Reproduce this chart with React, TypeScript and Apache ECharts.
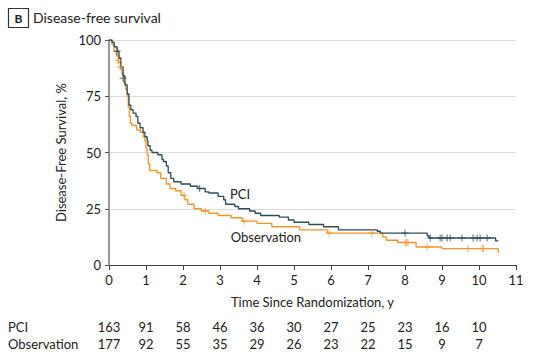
import React, { useEffect, useRef } from "react";
import * as echarts from "echarts";

const pciT = [0, 0.08, 0.14, 0.22, 0.27, 0.32, 0.38, 0.43, 0.49, 0.54, 0.59, 0.65, 0.73, 0.78, 0.84, 0.92, 0.97, 1.03, 1.05, 1.11, 1.16, 1.32, 1.43, 1.47, 1.55, 1.6, 1.67, 1.75, 1.95, 2.2, 2.4, 2.6, 2.7, 2.95, 3.1, 3.15, 3.4, 3.5, 3.8, 3.95, 4.1, 4.6, 4.85, 5.0, 5.4, 5.8, 6.2, 7.25, 7.33, 8.6, 8.65, 10.45, 10.52];
const pciS = [100, 99, 97, 95, 92, 88, 84, 80, 76, 71, 69, 67.5, 66, 63, 61, 59, 57, 55.5, 53, 51, 50, 49, 47, 46, 44, 41, 38.5, 37, 36, 35, 34, 32.5, 32, 30.5, 29, 27, 26, 25, 24, 23, 22, 21.3, 20, 19, 18, 17, 15.6, 15, 14.2, 13, 12, 10.7, 10.7];
const obsT = [0, 0.08, 0.14, 0.2, 0.26, 0.31, 0.35, 0.4, 0.45, 0.49, 0.52, 0.55, 0.58, 0.62, 0.75, 0.85, 0.93, 0.97, 1.0, 1.03, 1.06, 1.1, 1.3, 1.4, 1.55, 1.65, 1.8, 1.95, 2.05, 2.13, 2.3, 2.5, 2.7, 2.95, 3.3, 3.6, 4.0, 4.4, 5.15, 5.9, 7.4, 7.5, 7.8, 8.3, 9.0, 10.52];
const obsS = [100, 98, 95, 93, 90, 87, 85, 81, 78, 75, 70, 66, 63, 62, 60, 59, 57, 55, 52, 49, 45, 42, 41, 38.5, 36, 34, 33, 31, 29, 27, 25, 24, 23, 22, 21, 19.5, 18.5, 17, 15.6, 14.2, 12.5, 11, 10, 8, 7.3, 5.3];

const pciCensorT = [0.22, 0.38, 2.45, 8.0, 8.68, 8.95, 9.0, 9.14, 9.22, 9.54, 9.84, 9.95, 10.03, 10.22];
const pciCensorS = [95, 83, 34, 14.2, 12, 12, 12, 12, 12, 12, 12, 12, 12, 12];
const obsCensorT = [0.24, 0.3, 2.03, 2.6, 3.65, 5.95, 7.1, 8.0, 8.04, 8.08, 8.6, 9.7, 10.08, 10.12];
const obsCensorS = [91, 88, 31, 24, 19.5, 14.2, 14.2, 10, 10, 10, 8, 7.3, 7.3, 7.3];

const xTicks = [0, 1, 2, 3, 4, 5, 6, 7, 8, 9, 10, 11];
const yTicks = [0, 25, 50, 75, 100];
const pciRisk = [163, 91, 58, 46, 36, 30, 27, 25, 23, 16, 10];
const obsRisk = [177, 92, 55, 35, 29, 26, 23, 22, 15, 9, 7];

const PCI_COLOR = "#2e4b58";
const OBS_COLOR = "#f0952a";
const FONT = "Lato, 'Noto Sans', sans-serif";
const PLUS = "path://M4.3,0h1.4v4.3h4.3v1.4h-4.3v4.3h-1.4v-4.3h-4.3v-1.4h4.3z";

export default function App() {
  const ref = useRef<HTMLDivElement>(null);
  useEffect(() => {
    if (!ref.current) return;
    const chart = echarts.init(ref.current, undefined, { renderer: "svg" });
    const zip = (t: number[], s: number[]) => t.map((v, i) => [v, s[i]]);
    const riskAxis = (arr: number[], offset: number) => ({
      type: "value",
      gridIndex: 0,
      position: "bottom",
      offset,
      min: xTicks[0],
      max: xTicks[xTicks.length - 1],
      interval: 1,
      axisLine: { show: false },
      axisTick: { show: false },
      splitLine: { show: false },
      axisLabel: {
        margin: 0,
        fontFamily: FONT,
        fontSize: 13,
        color: "#222",
        formatter: (v: number) => {
          const r = arr[Math.round(v)];
          return r === undefined ? "" : String(r);
        },
      },
    });
    chart.setOption({
      animation: false,
      textStyle: { fontFamily: FONT },
      grid: { left: 109, right: 17, top: 40, bottom: 99 },
      xAxis: [
        {
          type: "value",
          min: xTicks[0],
          max: xTicks[xTicks.length - 1],
          interval: 1,
          name: "Time Since Randomization, y",
          nameLocation: "middle",
          nameGap: 30,
          nameTextStyle: { fontFamily: FONT, fontSize: 13, color: "#222" },
          axisLine: { lineStyle: { color: "#444", width: 1.2 } },
          axisTick: { show: true, length: 5, lineStyle: { color: "#444" } },
          splitLine: { show: false },
          axisLabel: { margin: 8, fontFamily: FONT, fontSize: 13, color: "#222" },
        },
        riskAxis(pciRisk, 55),
        riskAxis(obsRisk, 72),
      ],
      yAxis: {
        type: "value",
        min: 0,
        max: 100,
        interval: 25,
        name: "Disease-Free Survival, %",
        nameLocation: "middle",
        nameGap: 34,
        nameRotate: 90,
        nameTextStyle: { fontFamily: FONT, fontSize: 13, color: "#222" },
        axisLine: { show: true, lineStyle: { color: "#777", width: 1.5 } },
        axisTick: { show: true, length: 4, lineStyle: { color: "#555" } },
        splitLine: { show: true, lineStyle: { color: "#dcdcdc", width: 1 } },
        axisLabel: {
          margin: 8,
          fontFamily: FONT,
          fontSize: 13,
          color: "#222",
          formatter: (v: number) => (yTicks.includes(v) ? String(v) : ""),
        },
      },
      series: [
        {
          type: "line",
          name: "Observation",
          step: "end",
          data: zip(obsT, obsS),
          showSymbol: false,
          lineStyle: { color: OBS_COLOR, width: 1.3 },
          z: 3,
          markPoint: {
            symbol: "circle",
            symbolSize: 0,
            data: [
              {
                coord: [4.24, 12.4],
                label: { show: true, formatter: "Observation", fontFamily: FONT, fontSize: 13, color: "#222", position: "inside" },
              },
            ],
          },
        },
        {
          type: "line",
          name: "PCI",
          step: "end",
          data: zip(pciT, pciS),
          showSymbol: false,
          lineStyle: { color: PCI_COLOR, width: 1.3 },
          z: 4,
          markPoint: {
            symbol: "circle",
            symbolSize: 0,
            data: [
              {
                coord: [3.54, 31.5],
                label: { show: true, formatter: "PCI", fontFamily: FONT, fontSize: 13, color: "#222", position: "inside" },
              },
            ],
          },
        },
        {
          type: "scatter",
          data: zip(obsCensorT, obsCensorS),
          symbol: PLUS,
          symbolSize: 7,
          itemStyle: { color: OBS_COLOR },
          z: 5,
        },
        {
          type: "scatter",
          data: zip(pciCensorT, pciCensorS),
          symbol: PLUS,
          symbolSize: 7,
          itemStyle: { color: PCI_COLOR },
          z: 6,
        },
      ],
      graphic: [
        { type: "rect", shape: { x: 8.5, y: 8.5, width: 20, height: 19 }, style: { fill: "#fff", stroke: "#333", lineWidth: 1.2 } },
        { type: "text", x: 18.5, y: 18, style: { text: "B", fontFamily: FONT, fontWeight: "bold", fontSize: 12, fill: "#222", align: "center", verticalAlign: "middle" } },
        { type: "text", x: 33, y: 17, style: { text: "Disease-free survival", fontFamily: FONT, fontSize: 14, fill: "#222", align: "left", verticalAlign: "middle" } },
        { type: "text", x: 8, y: 327, style: { text: "PCI", fontFamily: FONT, fontSize: 13, fill: "#222", align: "left", verticalAlign: "middle" } },
        { type: "text", x: 8, y: 344, style: { text: "Observation", fontFamily: FONT, fontSize: 13, fill: "#222", align: "left", verticalAlign: "middle" } },
      ],
    });
    return () => chart.dispose();
  }, []);
  return <div ref={ref} style={{ position: "fixed", left: 0, top: 0, width: 533, height: 364, background: "#fff" }} />;
}
